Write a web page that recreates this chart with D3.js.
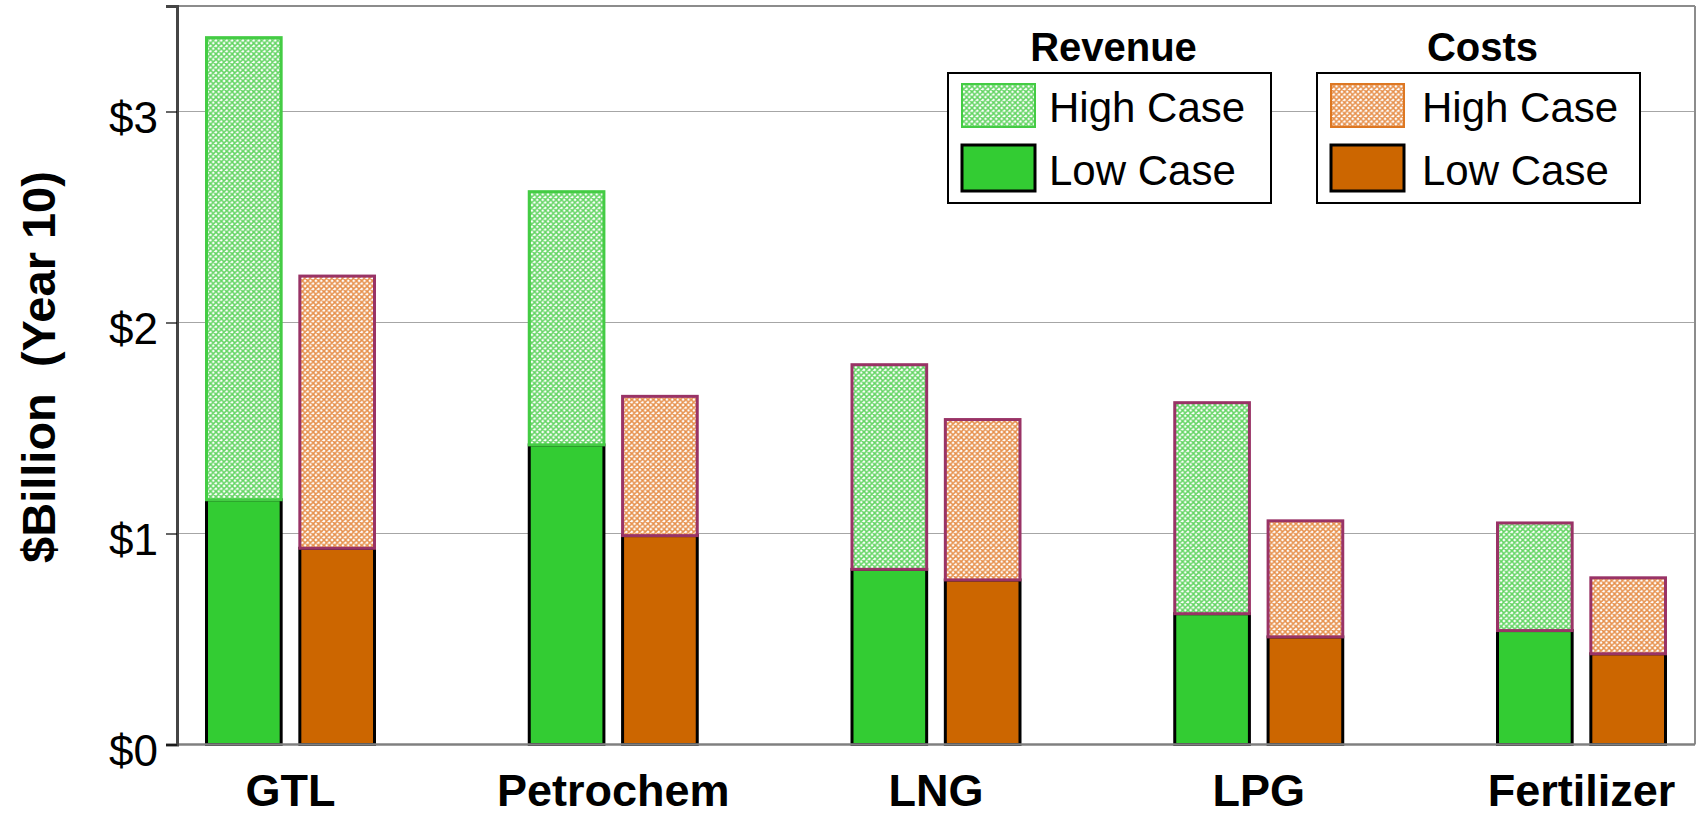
<!DOCTYPE html>
<html>
<head>
<meta charset="utf-8">
<script src="https://cdn.jsdelivr.net/npm/d3@7/dist/d3.min.js"></script>
<style>
  html, body { margin: 0; padding: 0; background: #fff; }
  svg { display: block; font-family: "Liberation Sans", Arial, Helvetica, sans-serif; }
</style>
</head>
<body>
<svg id="chart" width="1698" height="816"></svg>
<script>
// ---- data ----
const categories   = ["GTL", "Petrochem", "LNG", "LPG", "Fertilizer"];
const revenueLow   = [1.16, 1.42, 0.83, 0.62, 0.54];
const revenueHigh  = [3.35, 2.62, 1.80, 1.62, 1.05];
const costsLow     = [0.93, 0.99, 0.78, 0.51, 0.43];
const costsHigh    = [2.22, 1.65, 1.54, 1.06, 0.79];
const seriesNames  = ["Revenue", "Costs"];
const caseNames    = ["High Case", "Low Case"];
const yTickValues  = [0, 1, 2, 3];
const yTickLabels  = ["$0", "$1", "$2", "$3"];
const yTitle       = "$Billion  (Year 10)";

// ---- layout / style ----
const W = 1698, H = 816;
const plot = { left: 177, right: 1695, top: 6, bottom: 744.5 };
const GREEN = "#33cc33", ORANGE = "#cc6600", MAROON = "#993366";
const GREEN_EDGE = "#44cc44", ORANGE_EDGE = "#dd7722";

const svg = d3.select("#chart");
const defs = svg.append("defs");

function makePattern(id, color) {
  const p = defs.append("pattern")
    .attr("id", id).attr("patternUnits", "userSpaceOnUse")
    .attr("width", 5.4).attr("height", 5.4);
  p.append("rect").attr("width", 5.4).attr("height", 5.4).attr("fill", "#fff");
  p.append("path")
    .attr("d", "M0,0L5.4,5.4M5.4,0L0,5.4M-1,4.4L1,6.4M4.4,-1L6.4,1M4.4,6.4L6.4,4.4M-1,1L1,-1")
    .attr("stroke", color).attr("stroke-width", 1.5).attr("fill", "none");
}
makePattern("patGreen", "#62d462");
makePattern("patOrange", "#e68f4a");

const y = d3.scaleLinear().domain([0, 3.5]).range([plot.bottom, plot.top]);
const x = d3.scalePoint().domain(categories).range([290.5, 1581.5]);
const xs = d3.scaleBand().domain(seriesNames).range([-84, 84]).paddingInner(0.2).paddingOuter(0);

// gridlines
svg.append("g").selectAll("line")
  .data(yTickValues.filter(v => v > 0))
  .join("line")
  .attr("x1", plot.left).attr("x2", plot.right)
  .attr("y1", d => y(d)).attr("y2", d => y(d))
  .attr("stroke", "#a6a6a6").attr("stroke-width", 1.2);

// bars
const rows = categories.map((c, i) => ({
  cat: c, i,
  series: [
    { name: "Revenue", low: revenueLow[i], high: revenueHigh[i] },
    { name: "Costs", low: costsLow[i], high: costsHigh[i] }
  ]
}));

const barG = svg.append("g");
rows.forEach(r => {
  r.series.forEach(s => {
    const bx = x(r.cat) + xs(s.name);
    const bw = xs.bandwidth();
    // low
    barG.append("rect")
      .attr("x", bx).attr("y", y(s.low))
      .attr("width", bw).attr("height", y(0) - y(s.low))
      .attr("fill", s.name === "Revenue" ? GREEN : ORANGE)
      .attr("stroke", "#000").attr("stroke-width", 3);
    // high (stacked on top)
    const edge = (s.name === "Revenue" && r.i < 2) ? GREEN_EDGE : MAROON;
    barG.append("rect")
      .attr("x", bx).attr("y", y(s.high))
      .attr("width", bw).attr("height", y(s.low) - y(s.high))
      .attr("fill", s.name === "Revenue" ? "url(#patGreen)" : "url(#patOrange)")
      .attr("stroke", edge).attr("stroke-width", 3);
  });
});

// frame
svg.append("line").attr("x1", plot.left).attr("x2", plot.right).attr("y1", plot.top).attr("y2", plot.top)
  .attr("stroke", "#8c8c8c").attr("stroke-width", 2);
svg.append("line").attr("x1", plot.right).attr("x2", plot.right).attr("y1", plot.top).attr("y2", plot.bottom)
  .attr("stroke", "#8c8c8c").attr("stroke-width", 2);
svg.append("line").attr("x1", plot.left).attr("x2", plot.right).attr("y1", plot.bottom).attr("y2", plot.bottom)
  .attr("stroke", "#808080").attr("stroke-width", 2.5);

// y axis
const yAxis = d3.axisLeft(y).tickValues(yTickValues)
  .tickFormat((d, i) => yTickLabels[i]).tickSize(11).tickPadding(8);
const yg = svg.append("g").attr("transform", `translate(${plot.left},0)`).call(yAxis);
yg.select(".domain").attr("stroke", "#454545").attr("stroke-width", 3);
yg.selectAll(".tick line").attr("stroke", "#000").attr("stroke-width", 1.2);
yg.selectAll(".tick text")
  .attr("font-size", 44).attr("fill", "#000")
  .attr("font-family", "'Liberation Sans', Arial, sans-serif")
  .attr("dy", null).attr("y", 20.5);

// x category labels
svg.append("g").selectAll("text")
  .data(categories).join("text")
  .attr("x", d => x(d)).attr("y", 806)
  .attr("text-anchor", "middle")
  .attr("font-size", 45).attr("font-weight", "bold")
  .text(d => d);

// y title
svg.append("text")
  .attr("transform", "translate(55,367) rotate(-90)")
  .attr("text-anchor", "middle")
  .attr("font-size", 47).attr("font-weight", "bold")
  .style("white-space", "pre")
  .text(yTitle);

// legends
const legends = [
  { title: seriesNames[0], box: [948, 73, 323, 130], sw: 962, tx: 1049,
    fills: ["url(#patGreen)", GREEN], edges: [GREEN_EDGE, "#000"] },
  { title: seriesNames[1], box: [1317, 73, 323, 130], sw: 1331, tx: 1422,
    fills: ["url(#patOrange)", ORANGE], edges: [ORANGE_EDGE, "#000"] }
];
legends.forEach(L => {
  const g = svg.append("g");
  g.append("rect").attr("x", L.box[0]).attr("y", L.box[1])
    .attr("width", L.box[2]).attr("height", L.box[3])
    .attr("fill", "#fff").attr("stroke", "#000").attr("stroke-width", 2);
  g.append("text").attr("x", L.box[0] + L.box[2] / 2 + 4).attr("y", 61)
    .attr("text-anchor", "middle").attr("font-size", 40).attr("font-weight", "bold")
    .text(L.title);
  caseNames.forEach((cn, k) => {
    const sy = k === 0 ? 84 : 145;
    g.append("rect").attr("x", L.sw).attr("y", sy)
      .attr("width", 73).attr("height", k === 0 ? 43 : 46)
      .attr("fill", L.fills[k]).attr("stroke", L.edges[k])
      .attr("stroke-width", k === 0 ? 2 : 3);
    g.append("text").attr("x", L.tx).attr("y", k === 0 ? 122 : 185)
      .attr("font-size", 42).text(cn);
  });
});
</script>
</body>
</html>
